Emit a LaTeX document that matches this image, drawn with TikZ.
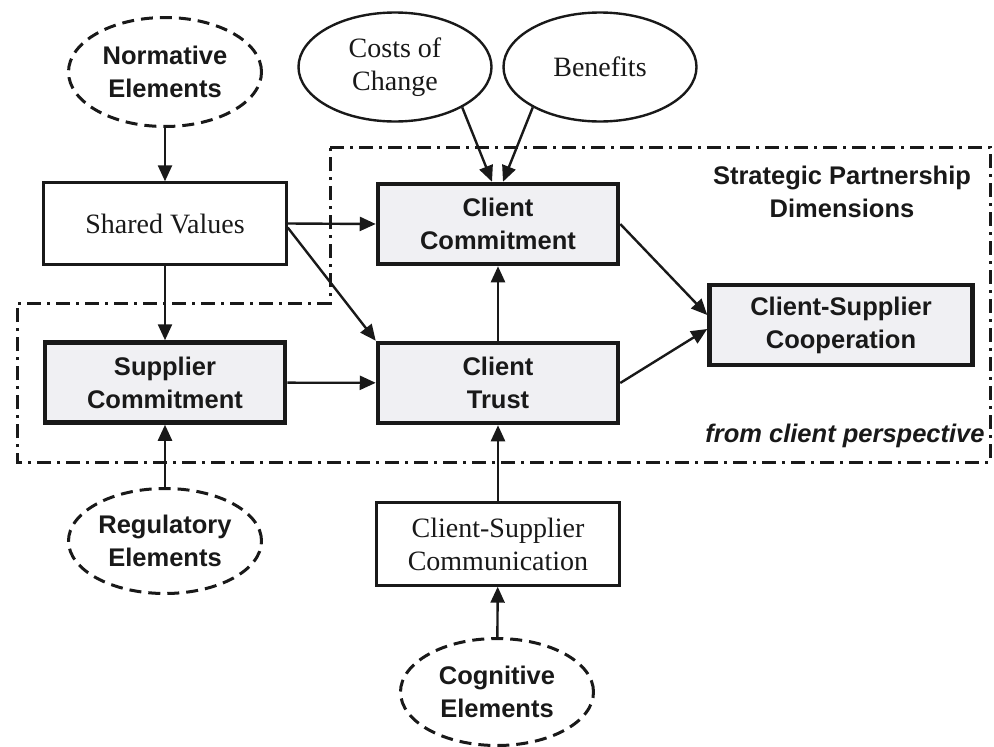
\documentclass[tikz,border=0pt]{standalone}
\usepackage{fontspec}
\setmainfont{Liberation Serif}
\newfontfamily\hv{Liberation Sans}
\usetikzlibrary{shapes.geometric,arrows.meta}
\definecolor{boxfill}{RGB}{240,240,243}
\definecolor{ink}{RGB}{25,25,25}

\begin{document}
\begin{tikzpicture}[x=1pt,y=-1pt,
  serif/.style={font=\fontsize{28}{33}\selectfont, align=center, text=ink},
  sansb/.style={font=\hv\bfseries\fontsize{25.5}{33}\selectfont, align=center, text=ink},
  plainbox/.style={rectangle, draw=ink, line width=2.4pt, minimum width=243pt, minimum height=82pt, inner sep=0pt, serif},
  keybox/.style={rectangle, draw=ink, line width=4.5pt, fill=boxfill, minimum width=240pt, minimum height=80pt, inner sep=0pt, sansb},
  plainoval/.style={ellipse, draw=ink, line width=2.4pt, minimum width=193pt, minimum height=109pt, inner sep=0pt, serif},
  dashoval/.style={ellipse, draw=ink, line width=3pt, dash pattern=on 12pt off 7pt, minimum width=193pt, minimum height=105pt, inner sep=0pt, sansb},
  arr/.style={draw=ink, line width=2.4pt, -{Triangle[length=16pt,width=14pt]}},
  region/.style={draw=ink, line width=3pt, dash pattern=on 14pt off 6pt on 3pt off 6pt}
]
  \fill[white] (0,0) rectangle (994,747);
  \useasboundingbox (0,0) rectangle (994,747);

  % partnership dimensions boundary
  \draw[region] (330,147) -- (990,147) -- (990,462) -- (17,462) -- (17,303) -- (330,303) -- cycle;

  % antecedents
  \node[dashoval, minimum height=109pt] (norm) at (165,72) {Normative\\Elements};
  \node[plainoval] (cost) at (395,67) {Costs of\\Change};
  \node[plainoval] (bene) at (600,67) {Benefits};
  \node[plainbox] (shared) at (165,223.5) {Shared Values};
  \node[dashoval] (reg) at (165,541) {Regulatory\\Elements};
  \node[plainbox, minimum height=83pt] (comm) at (498,544) {Client-Supplier\\Communication};
  \node[dashoval, minimum height=107pt] (cog) at (497,692) {Cognitive\\Elements};

  % partnership dimensions
  \node[keybox] (ccommit) at (498,224) {Client\\Commitment};
  \node[keybox] (supp) at (165,382.5) {Supplier\\Commitment};
  \node[keybox] (trust) at (498,383) {Client\\Trust};
  \node[keybox, minimum width=263pt] (coop) at (841,325) {Client-Supplier\\Cooperation};

  \node[sansb] (title) at (842,192) {Strategic Partnership\\Dimensions};
  \node[sansb, font=\hv\bfseries\itshape\fontsize{25.5}{33}\selectfont] (persp) at (845,436) {from client perspective};

  % influences
  \draw[arr] (norm) -- (shared);
  \draw[arr] (cost.-31) -- ([xshift=-6pt]ccommit.north);
  \draw[arr] (bene.211) -- ([xshift=5pt]ccommit.north);
  \draw[arr] (shared.east) -- (ccommit.west);
  \draw[arr] ([yshift=-4pt]shared.east) -- (trust.north west);
  \draw[arr] (shared) -- (supp);
  \draw[arr] (supp) -- (trust);
  \draw[arr] (trust) -- (ccommit);
  \draw[arr] (ccommit.east) -- ([yshift=10pt]coop.west);
  \draw[arr] (trust.east) -- ([yshift=-4pt]coop.west);
  \draw[arr] (reg) -- (supp);
  \draw[arr] (comm) -- (trust);
  \draw[arr] (cog) -- (comm);
\end{tikzpicture}
\end{document}
